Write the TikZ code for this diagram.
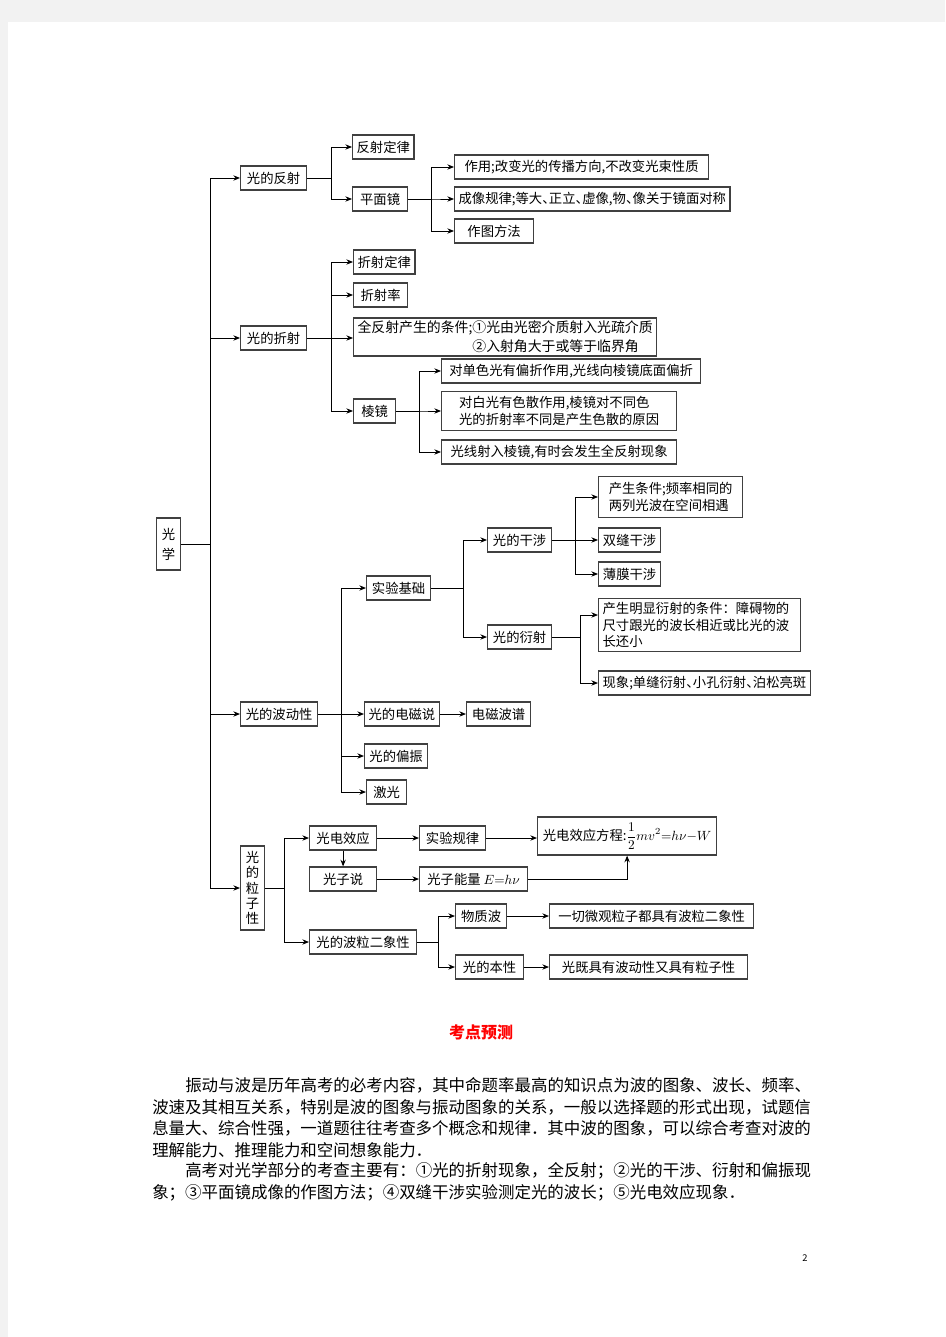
\documentclass[tikz,border=0pt]{standalone}
\usepackage[no-math]{fontspec}
\setmainfont{Noto Sans CJK SC}
\newfontfamily\dgcjk[RawFeature=+halt]{Noto Sans CJK SC}
\usetikzlibrary{arrows.meta,calc}
\newdimen\pxu \pxu=0.75pt
\def\dg{\dgcjk\fontsize{10pt}{13pt}\selectfont}
\def\bd{\fontsize{12.35pt}{16pt}\selectfont}
\tikzset{
	box/.style={draw=black!75, line width=0.9pt, anchor=west, inner xsep=3pt, inner ysep=1pt, minimum height=24\pxu, font=\dg},
	vbox/.style={box, minimum width=24\pxu, align=center, font={\dgcjk\fontsize{10pt}{11.4pt}\selectfont}},
	arr/.style={-{Stealth[length=5pt,width=4pt]}, line width=0.7pt},
	txt/.style={anchor=west, inner sep=0pt, font=\bd}
}

\begin{document}
\begin{tikzpicture}[x=0.75pt,y=-0.75pt]
		%%%%% START %%%%%
		\useasboundingbox (0,0) rectangle (945,1337);
		\fill[black!5] (0,0) rectangle (945,1337);
		\fill[white] (8,22) rectangle (945,1337);
		
		\node[vbox, minimum height=52\pxu, font={\dgcjk\fontsize{10pt}{15pt}\selectfont}] (gx) at (156,544) {光\\学};
		
		\node[box, minimum width=66\pxu] (gfs) at (240,178) {光的反射};
		\node[box, minimum width=66\pxu] (gzs) at (240,338) {光的折射};
		\node[box, minimum width=77\pxu] (gbd) at (240,714) {光的波动性};
		\node[vbox, minimum height=84\pxu] (glz) at (240,888) {光\\的\\粒\\子\\性};
		\draw[arr] (gx.east) -- ++(29,0) |- (gfs.west);
		\draw[arr] (gx.east) -- ++(29,0) |- (gzs.west);
		\draw[arr] (gx.east) -- ++(29,0) |- (gbd.west);
		\draw[arr] (gx.east) -- ++(29,0) |- (glz.west);
		
		% reflection
		\node[box, minimum width=61\pxu] (fsdl) at (352,147) {反射定律};
		\node[box, minimum width=55\pxu] (pmj) at (352,199) {平面镜};
		\draw[arr] (gfs.east) -- ++(24,0) |- (fsdl.west);
		\draw[arr] (gfs.east) -- ++(24,0) |- (pmj.west);
		\node[box, minimum width=254\pxu] (zy) at (454,167) {作用;改变光的传播方向,不改变光束性质};
		\node[box, minimum width=273\pxu] (cxgl) at (454,199) {成像规律;等大、正立、虚像,物、像关于镜面对称};
		\node[box, minimum width=79\pxu] (ztff) at (454,231) {作图方法};
		\draw[arr] (pmj.east) -- ++(23,0) |- (zy.west);
		\draw[arr] (pmj.east) -- ++(23,0) |- (cxgl.west);
		\draw[arr] (pmj.east) -- ++(23,0) |- (ztff.west);
		
		% refraction
		\node[box, minimum width=60\pxu] (zsdl) at (353,262) {折射定律};
		\node[box, minimum width=54\pxu] (zsl) at (353,295) {折射率};
		\node[box, minimum width=302\pxu, minimum height=38\pxu, align=left, font={\dgcjk\fontsize{10.4pt}{14pt}\selectfont}] (qfs) at (353,337) {全反射产生的条件;①光由光密介质射入光疏介质\\\hphantom{全反射产生的条件;}②入射角大于或等于临界角};
		\node[box, minimum width=42\pxu] (lj) at (353,411) {棱镜};
		\draw[arr] (gzs.east) -- ++(24,0) |- (zsdl.west);
		\draw[arr] (gzs.east) -- ++(24,0) |- (zsl.west);
		\draw[arr] (gzs.east) -- (gzs.east -| qfs.west);
		\draw[arr] (gzs.east) -- ++(24,0) |- (lj.west);
		\node[box, minimum width=259\pxu] (dsg) at (441,371) {对单色光有偏折作用,光线向棱镜底面偏折};
		\node[box, minimum width=235\pxu, minimum height=39\pxu, align=left] (dbg) at (441,411) {对白光有色散作用,棱镜对不同色\\光的折射率不同是产生色散的原因};
		\node[box, minimum width=235\pxu] (gxsr) at (441,452) {光线射入棱镜,有时会发生全反射现象};
		\draw[arr] (lj.east) -- ++(23,0) |- (dsg.west);
		\draw[arr] (lj.east) -- ++(23,0) |- (dbg.west);
		\draw[arr] (lj.east) -- ++(23,0) |- (gxsr.west);
		
		% wave nature
		\node[box, minimum width=64\pxu] (sjjc) at (366,588) {实验基础};
		\node[box, minimum width=74\pxu] (gdcs) at (364,714) {光的电磁说};
		\node[box, minimum width=63\pxu] (gdpz) at (364,756) {光的偏振};
		\node[box, minimum width=40\pxu] (jg) at (366,792) {激光};
		\node[box, minimum width=64\pxu] (dcbp) at (466,714) {电磁波谱};
		\draw[arr] (gbd.east) -- ++(23,0) |- (sjjc.west);
		\draw[arr] (gbd.east) -- (gdcs.west);
		\draw[arr] (gbd.east) -- ++(23,0) |- (gdpz.west);
		\draw[arr] (gbd.east) -- ++(23,0) |- (jg.west);
		\draw[arr] (gdcs.east) -- (dcbp.west);
		
		\node[box, minimum width=64\pxu] (ggs) at (487,540) {光的干涉};
		\node[box, minimum width=64\pxu] (gys) at (487,637) {光的衍射};
		\draw[arr] (sjjc.east) -- ++(32,0) |- (ggs.west);
		\draw[arr] (sjjc.east) -- ++(32,0) |- (gys.west);
		\node[box, minimum width=144\pxu, minimum height=41\pxu, align=left] (cstj) at (598,497) {产生条件;频率相同的\\两列光波在空间相遇};
		\node[box, minimum width=62\pxu] (sfgs) at (598,540) {双缝干涉};
		\node[box, minimum width=62\pxu] (bmgs) at (598,574) {薄膜干涉};
		\draw[arr] (ggs.east) -- ++(23,0) |- (cstj.west);
		\draw[arr] (ggs.east) -- (sfgs.west);
		\draw[arr] (ggs.east) -- ++(23,0) |- (bmgs.west);
		\node[box, minimum height=53\pxu, text width=194\pxu, align=left, inner ysep=2pt, font={\fontsize{10pt}{12.4pt}\selectfont}] (ysjt) at (598,625) {产生明显衍射的条件：障碍物的\\尺寸跟光的波长相近或比光的波\\长还小};
		\node[box, minimum width=208\pxu] (xx) at (598,683) {现象;单缝衍射、小孔衍射、泊松亮斑};
		\draw[arr] (gys.east) -- ++(28,0) |- ([yshift=10\pxu]ysjt.west);
		\draw[arr] (gys.east) -- ++(28,0) |- (xx.west);
		
		% particle nature
		\node[box, minimum width=67\pxu] (gdxy) at (309,838) {光电效应};
		\node[box, minimum width=66\pxu] (sygl) at (419,838) {实验规律};
		\node[box, minimum width=67\pxu] (gzsh) at (309,879) {光子说};
		\node[box, minimum width=108\pxu] (gznl) at (419,879) {光子能量 $E{=}h\nu$};
		\node[box, minimum width=179\pxu, minimum height=38\pxu] (fc) at (537,836) {光电效应方程:$\displaystyle\frac{1}{2}mv^2{=}h\nu{-}W$};
		\node[box, minimum width=107\pxu] (blex) at (309,942) {光的波粒二象性};
		\draw[arr] (glz.east) -- ++(19,0) |- (gdxy.west);
		\draw[arr] (glz.east) -- ++(19,0) |- (blex.west);
		\draw[arr] (gdxy.east) -- (sygl.west);
		\draw[arr] (sygl.east) -- (sygl.east -| fc.west);
		\draw[arr] (gdxy.south) -- (gzsh.north);
		\draw[arr] (gzsh.east) -- (gznl.west);
		\draw[arr] (gznl.east) -| (fc.south);
		
		\node[box, minimum width=51\pxu] (wzb) at (455,916) {物质波};
		\node[box, minimum width=68\pxu] (gdbx) at (455,967) {光的本性};
		\node[box, minimum width=204\pxu] (yqwg) at (549,916) {一切微观粒子都具有波粒二象性};
		\node[box, minimum width=198\pxu] (gjj) at (549,967) {光既具有波动性又具有粒子性};
		\draw[arr] (blex.east) -- ++(21,0) |- (wzb.west);
		\draw[arr] (blex.east) -- ++(21,0) |- (gdbx.west);
		\draw[arr] (wzb.east) -- (yqwg.west);
		\draw[arr] (gdbx.east) -- (gjj.west);
		
		% text below
		\node[text=red, font={\bfseries\fontsize{12pt}{14pt}\selectfont}] (kdyc) at (481,1032) {考点预测};
		\node[txt] (p1) at (185,1085) {振动与波是历年高考的必考内容，其中命题率最高的知识点为波的图象、波长、频率、};
		\node[txt] (p2) at (152,1107) {波速及其相互关系，特别是波的图象与振动图象的关系，一般以选择题的形式出现，试题信};
		\node[txt] (p3) at (152,1128) {息量大、综合性强，一道题往往考查多个概念和规律．其中波的图象，可以综合考查对波的};
		\node[txt] (p4) at (152,1150) {理解能力、推理能力和空间想象能力．};
		\node[txt] (p5) at (185,1171) {高考对光学部分的考查主要有：①光的折射现象，全反射；②光的干涉、衍射和偏振现};
		\node[txt] (p6) at (152,1193) {象；③平面镜成像的作图方法；④双缝干涉实验测定光的波长；⑤光电效应现象．};
		\node[font={\fontsize{7pt}{8pt}\selectfont}] (ym) at (805,1258) {2};
		
		%%%%% END %%%%%
\end{tikzpicture}
\end{document}
